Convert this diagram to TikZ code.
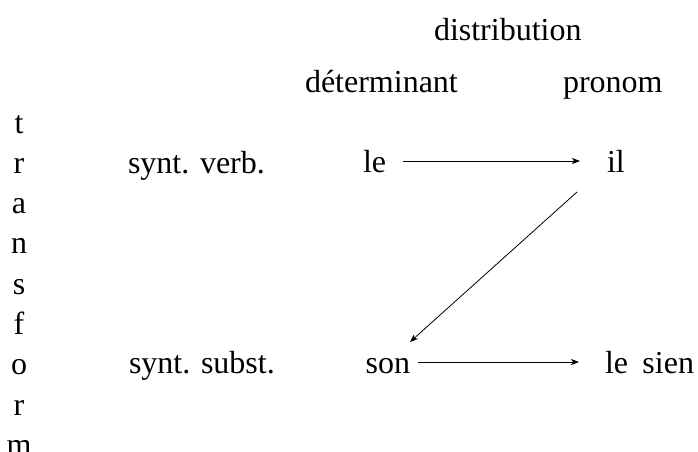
\documentclass[tikz,border=0pt]{standalone}
\usepackage{fontspec}
\setmainfont{Liberation Serif}
\usetikzlibrary{arrows.meta}
\begin{document}
\begin{tikzpicture}[x=1pt,y=-1pt,
  every node/.style={inner sep=0pt,outer sep=0pt,font=\fontsize{32}{38}\selectfont},
  word/.style={text height=22pt,text depth=0pt},
  letter/.style={anchor=base},
  conn/.style={line width=0.8pt,-{Stealth[length=8pt,width=6pt,inset=2pt]}}]
\useasboundingbox (0,0) rectangle (698,451);
% headers
\node[anchor=base west] (distr) at (434,40) {distribution};
\node[anchor=base west] (det) at (305,92) {déterminant};
\node[anchor=base west] (pron) at (563,92) {pronom};
% vertical word
\foreach \ch [count=\i from 0] in {t,r,a,n,s,f,o,r,m}
  \node[letter] (v\i) at (19,133+40.3*\i) {\ch};
% row labels
\node[anchor=base west] (sv) at (128,173) {synt. verb.};
\node[anchor=base west] (ss) at (129,373) {synt. subst.};
% words
\node[word,anchor=base west] (le) at (363,172) {le};
\node[word,anchor=base west] (il) at (607,172) {il};
\node[word,anchor=base east] (son) at (410,373) {son};
\node[word,anchor=base west] (sien) at (605,373) {le\hspace{0.45em}sien};
% connectors
\draw[conn] ([xshift=17pt]le.east) -- ([xshift=-27pt]il.west |- le.east);
\draw[conn] ([xshift=8pt]son.east |- sien.west) -- ([xshift=-26pt]sien.west);
\draw[conn] ([shift={(-30pt,-20pt)}]il.south west) -- ([shift={(0pt,9pt)}]son.north east);
\end{tikzpicture}
\end{document}
